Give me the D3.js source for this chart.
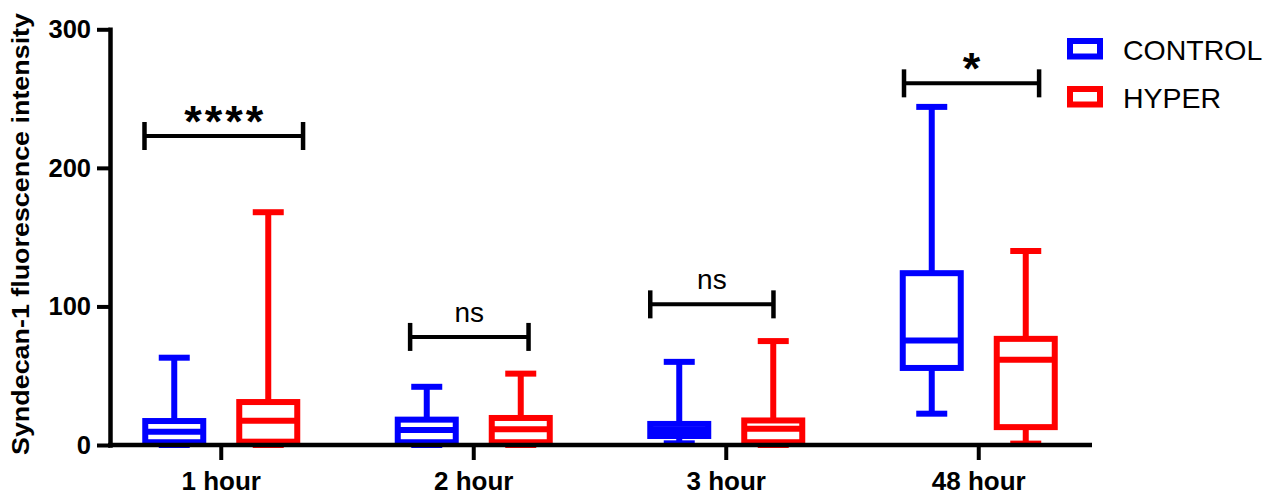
<!DOCTYPE html>
<html>
<head>
<meta charset="utf-8">
<script src="https://cdn.jsdelivr.net/npm/d3@7/dist/d3.min.js"></script>
<style>
  body { margin: 0; background: #fff; }
  text { font-family: Arial, "Liberation Sans", sans-serif; }
</style>
</head>
<body>
<svg width="1279" height="491"></svg>
<script>
// categories and series
var categories = ["1 hour", "2 hour", "3 hour", "48 hour"];
var series = ["CONTROL", "HYPER"];
var colors = ["#0000ff", "#ff0000"];

// box-plot values (min, Q1, median, Q3, max)
var controlMin = [0, 0, 1.2, 22.6];
var controlQ1 = [2, 2, 6.5, 55.6];
var controlMed = [9.6, 10.8, 10.8, 75.4];
var controlQ3 = [17.3, 18.3, 15.2, 124];
var controlMax = [63, 42, 60, 244];

var hyperMin = [0, 0, 0, 1];
var hyperQ1 = [2.4, 2, 2, 12.9];
var hyperMed = [17.5, 11.4, 11.8, 61.5];
var hyperQ3 = [31, 19.5, 17.7, 76.6];
var hyperMax = [168, 51.5, 75, 140];

// significance annotations
var sigLabels = ["****", "ns", "ns", "*"];
var sigValue = [223, 78, 101.5, 261];

var yTicks = [0, 100, 200, 300];

var svg = d3.select("svg");

var x = d3.scaleBand().domain(categories).range([95, 1105]);
var sub = d3.scalePoint().domain(series).range([-47, 47]);
var y = d3.scaleLinear().domain([0, 300]).range([445, 29.3]);

// bracket ends, as fraction of the band step from the category centre
var sigFrom = [-0.304, -0.252, -0.301, -0.296];
var sigTo = [0.324, 0.217, 0.187, 0.239];

var boxes = [];
categories.forEach(function (c, i) {
  boxes.push({ cat: c, s: "CONTROL", col: colors[0], min: controlMin[i], q1: controlQ1[i], med: controlMed[i], q3: controlQ3[i], max: controlMax[i] });
  boxes.push({ cat: c, s: "HYPER", col: colors[1], min: hyperMin[i], q1: hyperQ1[i], med: hyperMed[i], q3: hyperQ3[i], max: hyperMax[i] });
});

function cx(d) { return x(d.cat) + x.bandwidth() / 2 + sub(d.s); }

var boxW = 58, capW = 31, sw = 6;

var g = svg.append("g");
var bg = g.selectAll(".box").data(boxes).enter().append("g").attr("class", "box");

// whiskers
bg.append("line")
  .attr("x1", cx).attr("x2", cx)
  .attr("y1", function (d) { return y(d.q3); })
  .attr("y2", function (d) { return y(d.max); })
  .attr("stroke", function (d) { return d.col; }).attr("stroke-width", sw);
bg.append("line")
  .attr("x1", cx).attr("x2", cx)
  .attr("y1", function (d) { return y(d.q1); })
  .attr("y2", function (d) { return y(d.min); })
  .attr("stroke", function (d) { return d.col; }).attr("stroke-width", sw);
// caps
bg.append("line")
  .attr("x1", function (d) { return cx(d) - capW / 2; })
  .attr("x2", function (d) { return cx(d) + capW / 2; })
  .attr("y1", function (d) { return y(d.max); })
  .attr("y2", function (d) { return y(d.max); })
  .attr("stroke", function (d) { return d.col; }).attr("stroke-width", sw);
bg.append("line")
  .attr("x1", function (d) { return cx(d) - capW / 2; })
  .attr("x2", function (d) { return cx(d) + capW / 2; })
  .attr("y1", function (d) { return y(d.min); })
  .attr("y2", function (d) { return y(d.min); })
  .attr("stroke", function (d) { return d.col; }).attr("stroke-width", sw);
// box
bg.append("rect")
  .attr("x", function (d) { return cx(d) - boxW / 2; })
  .attr("y", function (d) { return y(d.q3); })
  .attr("width", boxW)
  .attr("height", function (d) { return y(d.q1) - y(d.q3); })
  .attr("fill", "#fff")
  .attr("stroke", function (d) { return d.col; }).attr("stroke-width", sw);
// median
bg.append("line")
  .attr("x1", function (d) { return cx(d) - boxW / 2; })
  .attr("x2", function (d) { return cx(d) + boxW / 2; })
  .attr("y1", function (d) { return y(d.med); })
  .attr("y2", function (d) { return y(d.med); })
  .attr("stroke", function (d) { return d.col; }).attr("stroke-width", sw);

// y axis
var yAxis = svg.append("g")
  .attr("transform", "translate(110,0)")
  .call(d3.axisLeft(y).tickValues(yTicks).tickSize(13).tickSizeOuter(0).tickPadding(6));
yAxis.select(".domain").attr("stroke-width", 4.5).attr("stroke-linecap", "square");
yAxis.selectAll(".tick line").attr("stroke-width", 4);
yAxis.selectAll(".tick text")
  .attr("font-family", "Arial, 'Liberation Sans', sans-serif")
  .attr("font-size", 25.5).attr("font-weight", "bold").attr("fill", "#000");

// x axis
var xAxis = svg.append("g")
  .attr("transform", "translate(0,445)")
  .call(d3.axisBottom(x).tickSize(15).tickSizeOuter(0));
xAxis.select(".domain").remove();
xAxis.append("line").attr("x1", 108).attr("x2", 1092).attr("y1", 0).attr("y2", 0)
  .attr("stroke", "#000").attr("stroke-width", 4.5);
xAxis.selectAll(".tick line").attr("stroke-width", 4);
xAxis.selectAll(".tick text")
  .attr("dy", null).attr("y", 45)
  .attr("font-family", "Arial, 'Liberation Sans', sans-serif")
  .attr("font-size", 26).attr("font-weight", "bold").attr("fill", "#000");

// y axis title (stretched lengthwise like the original)
svg.append("text")
  .attr("transform", "translate(28.5,234) rotate(-90)")
  .attr("text-anchor", "middle")
  .attr("font-size", 23).attr("font-weight", "bold")
  .attr("textLength", 442).attr("lengthAdjust", "spacingAndGlyphs")
  .text("Syndecan-1 fluorescence intensity");

// significance brackets
var sig = svg.append("g");
categories.forEach(function (c, i) {
  var mid = x(c) + x.bandwidth() / 2;
  var x1 = mid + sigFrom[i] * x.step(), x2 = mid + sigTo[i] * x.step();
  var yy = y(sigValue[i]);
  sig.append("line").attr("x1", x1).attr("x2", x2).attr("y1", yy).attr("y2", yy)
    .attr("stroke", "#000").attr("stroke-width", 4);
  [x1, x2].forEach(function (xx) {
    sig.append("line").attr("x1", xx).attr("x2", xx).attr("y1", yy - 14).attr("y2", yy + 14)
      .attr("stroke", "#000").attr("stroke-width", 4.5);
  });
  var t = sig.append("text")
    .attr("x", (x1 + x2) / 2)
    .attr("text-anchor", "middle")
    .text(sigLabels[i]);
  if (sigLabels[i] == "ns") {
    t.attr("y", yy - 15).attr("font-size", 28);
  } else {
    t.attr("y", yy + 1).attr("font-size", 45).attr("font-weight", "bold")
      .attr("letter-spacing", 3).attr("dx", 1.5);
  }
});

// legend
var leg = svg.selectAll(".legend").data(series).enter().append("g")
  .attr("class", "legend")
  .attr("transform", function (d, i) { return "translate(1067," + (38 + i * 48) + ")"; });
leg.append("rect").attr("x", 3).attr("y", 3).attr("width", 30).attr("height", 15.5)
  .attr("fill", "#fff").attr("stroke", function (d, i) { return colors[i]; }).attr("stroke-width", 6);
leg.append("text").attr("x", 56).attr("y", 22).attr("font-size", 28.5)
  .text(function (d) { return d; });
</script>
</body>
</html>
